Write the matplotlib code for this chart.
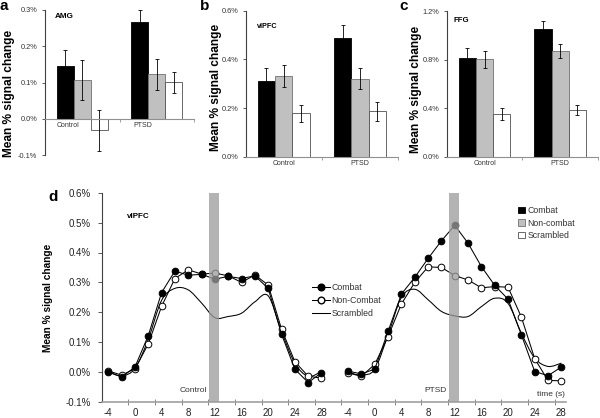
import numpy as np
import matplotlib
matplotlib.use("Agg")
import matplotlib.pyplot as plt
from matplotlib.path import Path
from matplotlib.patches import PathPatch, Patch
from matplotlib.lines import Line2D
from matplotlib.transforms import ScaledTranslation

plt.rcParams['font.family'] = ['Liberation Sans', 'DejaVu Sans']

# --- bar panels (a-c): mean % signal change, Control vs PTSD ---
groups = ['Control', 'PTSD']
conditions = ['Combat', 'Non-combat', 'Scrambled']

amg_combat = [0.145, 0.268]
amg_noncombat = [0.108, 0.123]
amg_scrambled = [-0.032, 0.101]
amg_combat_err = [0.044, 0.031]
amg_noncombat_err = [0.055, 0.043]
amg_scrambled_err = [0.056, 0.029]

vlpfc_combat = [0.311, 0.489]
vlpfc_noncombat = [0.332, 0.321]
vlpfc_scrambled = [0.178, 0.186]
vlpfc_combat_err = [0.053, 0.053]
vlpfc_noncombat_err = [0.044, 0.043]
vlpfc_scrambled_err = [0.035, 0.039]

ffg_combat = [0.810, 1.052]
ffg_noncombat = [0.802, 0.870]
ffg_scrambled = [0.349, 0.384]
ffg_combat_err = [0.082, 0.063]
ffg_noncombat_err = [0.071, 0.059]
ffg_scrambled_err = [0.050, 0.042]

# --- time course panel (d), vlPFC ---
times = [-4, -2, 0, 2, 4, 6, 8, 10, 12, 14, 16, 18, 20, 22, 24, 26, 28]
time_ticks = [-4, 0, 4, 8, 12, 16, 20, 24, 28]

ctrl_combat = [0.002, -0.017, 0.017, 0.122, 0.266, 0.338, 0.324, 0.327, 0.311,
               0.320, 0.313, 0.322, 0.280, 0.127, 0.010, -0.035, -0.002]
ctrl_noncombat = [0.004, -0.010, 0.011, 0.094, 0.220, 0.313, 0.342, 0.328, 0.331,
                  0.322, 0.300, 0.325, 0.291, 0.144, 0.035, -0.014, -0.020]
ctrl_scrambled = [0.000, -0.012, 0.012, 0.110, 0.240, 0.280, 0.275, 0.231, 0.182,
                  0.186, 0.197, 0.235, 0.255, 0.136, 0.030, -0.014, 0.002]

ptsd_combat = [0.003, -0.006, 0.010, 0.137, 0.261, 0.317, 0.380, 0.439, 0.491,
               0.431, 0.353, 0.290, 0.244, 0.125, 0.002, -0.012, 0.017]
ptsd_noncombat = [-0.003, -0.014, 0.026, 0.119, 0.228, 0.300, 0.352, 0.350, 0.323,
                  0.308, 0.282, 0.286, 0.284, 0.184, 0.045, -0.028, -0.029]
ptsd_scrambled = [0.000, -0.010, 0.010, 0.125, 0.250, 0.277, 0.242, 0.203, 0.188,
                  0.186, 0.219, 0.247, 0.230, 0.130, 0.047, 0.019, 0.030]

W, H = 600, 418
fig = plt.figure(figsize=(W / 100, H / 100), dpi=100)


def px_axes(l, t, r, b):
    return fig.add_axes([l / W, 1 - b / H, (r - l) / W, (b - t) / H])


def ftext(x, y, s, **kw):
    return fig.text(x / W, 1 - y / H, s, **kw)


def pct(v, pos=None):
    return "%.1f%%" % v


bar_faces = ['black', '#c0c0c0', 'white']
bar_edges = ['black', '#707070', '#505050']


def bar_panel(ax, means, errs, ylim, yticks, label_shift=0):
    x = np.arange(len(groups))
    w = 0.228
    for k in range(3):
        ax.bar(x + (k - 1) * w, means[k], w, color=bar_faces[k], edgecolor=bar_edges[k],
               linewidth=0.6, yerr=errs[k], capsize=1.3,
               error_kw=dict(elinewidth=0.6, capthick=0.6, ecolor='black'))
    ax.set_xlim(-0.5, 1.5)
    ax.set_ylim(*ylim)
    ax.set_yticks(yticks)
    ax.yaxis.set_major_formatter(plt.FuncFormatter(pct))
    for s in ['top', 'right']:
        ax.spines[s].set_visible(False)
    ax.spines['left'].set_color('#404040')
    ax.spines['left'].set_linewidth(0.8)
    ax.spines['bottom'].set_position(('data', 0))
    ax.spines['bottom'].set_color('#909090')
    ax.spines['bottom'].set_linewidth(0.8)
    ax.tick_params(axis='y', labelsize=5.3, length=2, width=0.6, color='#404040',
                   pad=3.5, labelcolor='#333333')
    ax.set_xticks([0.5, 1.5])
    ax.set_xticklabels([])
    ax.tick_params(axis='x', which='major', length=2, width=0.6, color='#909090')
    ax.set_xticks([0, 1], minor=True)
    ax.set_xticklabels(groups, minor=True)
    ax.tick_params(axis='x', which='minor', length=0, labelsize=5, pad=2.5,
                   labelcolor='#333333')
    if label_shift:
        off = ScaledTranslation(label_shift / 100, 0, fig.dpi_scale_trans)
        for lab in ax.get_xticklabels(minor=True):
            lab.set_transform(lab.get_transform() + off)


ax_a = px_axes(45, 10, 194, 155)
bar_panel(ax_a, [amg_combat, amg_noncombat, amg_scrambled],
          [amg_combat_err, amg_noncombat_err, amg_scrambled_err],
          (-0.1, 0.3), [-0.1, 0.0, 0.1, 0.2, 0.3], label_shift=-14)

ax_b = px_axes(245.7, 10.7, 398, 156.7)
bar_panel(ax_b, [vlpfc_combat, vlpfc_noncombat, vlpfc_scrambled],
          [vlpfc_combat_err, vlpfc_noncombat_err, vlpfc_scrambled_err],
          (0, 0.6), [0.0, 0.2, 0.4, 0.6])

ax_c = px_axes(446.7, 11, 598, 156.7)
bar_panel(ax_c, [ffg_combat, ffg_noncombat, ffg_scrambled],
          [ffg_combat_err, ffg_noncombat_err, ffg_scrambled_err],
          (0, 1.2), [0.0, 0.4, 0.8, 1.2])

ylab_kw = dict(rotation=90, ha='center', va='center', fontweight='bold')
ftext(8.7, 93, 'Mean % signal change', fontsize=8.6, **ylab_kw)
ftext(216, 87.5, 'Mean % signal change', fontsize=8.6, **ylab_kw)
ftext(416.5, 89, 'Mean % signal change', fontsize=8.6, **ylab_kw)

ftext(55, 16, 'AMG', fontsize=5.9, fontweight='bold', va='center')
ftext(257, 26.5, 'vlPFC', fontsize=5.2, fontweight='bold', va='center')
ftext(454, 20, 'FFG', fontsize=5.6, fontweight='bold', va='center')

letter_kw = dict(fontsize=11, fontweight='bold', va='baseline')
ftext(-0.5, 10.5, 'a', **letter_kw)
ftext(199.5, 10.5, 'b', **letter_kw)
ftext(399.5, 10.5, 'c', **letter_kw)
ftext(48.5, 201.5, 'd', **letter_kw)

# --- panel d ---
shift = 36  # PTSD segment placed after the Control segment on a shared axis
ax_d = px_axes(102.3, 192.7, 566, 402)
t = np.array(times, dtype=float)


def smooth(ax, x, y, **kw):
    pts = np.column_stack([x, y])
    verts = [pts[0]]
    codes = [Path.MOVETO]
    n = len(pts)
    for i in range(n - 1):
        p0 = pts[max(i - 1, 0)]
        p1 = pts[i]
        p2 = pts[i + 1]
        p3 = pts[min(i + 2, n - 1)]
        verts += [p1 + (p2 - p0) / 6, p2 - (p3 - p1) / 6, p2]
        codes += [Path.CURVE4] * 3
    ax.add_patch(PathPatch(Path(verts, codes), fill=False, **kw))


line_kw = dict(color='black', lw=0.75, ms=4.8, mew=0.7)
for off, comb, nonc, scr in [(0, ctrl_combat, ctrl_noncombat, ctrl_scrambled),
                             (shift, ptsd_combat, ptsd_noncombat, ptsd_scrambled)]:
    smooth(ax_d, t + off, scr, edgecolor='black', lw=0.75, zorder=2)
    ax_d.plot(t + off, nonc, marker='o', mfc='white', mec='black', zorder=3, **line_kw)
    ax_d.plot(t + off, comb, marker='o', mfc='black', mec='black', zorder=4, **line_kw)
    ax_d.axvspan(11.1 + off, 12.6 + off, color='#9c9c9c', alpha=0.76, lw=0, zorder=5)

ax_d.set_xlim(-4.9, 64.7)
ax_d.set_ylim(-0.1, 0.6)
ax_d.set_yticks([-0.1, 0.0, 0.1, 0.2, 0.3, 0.4, 0.5, 0.6])
ax_d.yaxis.set_major_formatter(plt.FuncFormatter(pct))
for s in ['top', 'right']:
    ax_d.spines[s].set_visible(False)
ax_d.spines['left'].set_color('#404040')
ax_d.spines['left'].set_linewidth(0.8)
ax_d.spines['bottom'].set_color('#a0a0a0')
ax_d.spines['bottom'].set_linewidth(1.2)
ax_d.tick_params(axis='y', labelsize=7, length=3, width=0.6, color='#404040', pad=5,
                 labelcolor='#222222')
ax_d.set_xticks(np.arange(-1, 64, 4))
ax_d.set_xticklabels([])
ax_d.tick_params(axis='x', which='major', direction='inout', length=4, width=0.6,
                 color='#707070')
tick_pos = list(time_ticks) + [v + shift for v in time_ticks]
ax_d.set_xticks(tick_pos, minor=True)
ax_d.set_xticklabels([str(v) for v in time_ticks] * 2, minor=True)
ax_d.tick_params(axis='x', which='minor', length=0, labelsize=7, pad=4,
                 labelcolor='#222222')

ftext(48, 298, 'Mean % signal change', fontsize=7.3, **ylab_kw)
ftext(126.5, 217, 'vlPFC', fontsize=5.8, fontweight='bold', va='center')
ftext(207.5, 390.5, 'Control', fontsize=6, ha='right', va='center', color='#333333')
ftext(447, 390.5, 'PTSD', fontsize=6, ha='right', va='center', color='#333333')
ftext(565, 394, 'time (s)', fontsize=6, ha='right', va='center', color='#333333')

line_handles = [
    Line2D([], [], color='black', lw=0.75, marker='o', ms=4.8, mfc='black', mec='black'),
    Line2D([], [], color='black', lw=0.75, marker='o', ms=4.8, mfc='white', mec='black'),
    Line2D([], [], color='black', lw=0.75),
]
leg1 = ax_d.legend(line_handles, ['Combat', 'Non-Combat', 'Scrambled'],
                   loc='upper left', bbox_to_anchor=(312 / W, 1 - 283 / H),
                   bbox_transform=fig.transFigure, frameon=False, fontsize=6.3,
                   handlelength=2.0, handletextpad=0.2, labelspacing=0.45,
                   borderpad=0, borderaxespad=0)
for txt in leg1.get_texts():
    txt.set_color('#333333')
ax_d.add_artist(leg1)

square_handles = [Patch(facecolor=bar_faces[k], edgecolor=bar_edges[k], lw=0.6)
                  for k in range(3)]
leg2 = ax_d.legend(square_handles, conditions, loc='upper left',
                   bbox_to_anchor=(518 / W, 1 - 206 / H),
                   bbox_transform=fig.transFigure, frameon=False, fontsize=6.3,
                   handlelength=0.75, handleheight=0.75, handletextpad=0.3,
                   labelspacing=0.4, borderpad=0, borderaxespad=0)
for txt in leg2.get_texts():
    txt.set_color('#333333')

fig.savefig('out.png', dpi=100)
